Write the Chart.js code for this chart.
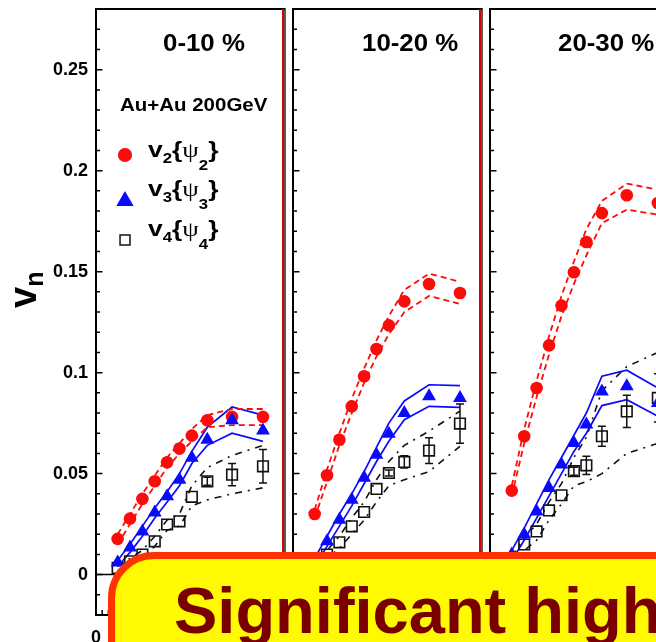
<!DOCTYPE html>
<html>
<head>
<meta charset="utf-8">
<script src="https://cdn.jsdelivr.net/npm/chart.js"></script>
<style>
  html, body { margin: 0; padding: 0; background: #fff; overflow: hidden; }
  body { width: 656px; height: 642px; position: relative; }
  canvas { position: absolute; top: 0; }
  .lbl { position: absolute; font-family: "Liberation Sans", Arial, sans-serif; font-weight: bold; white-space: nowrap; color: #000; transform-origin: 0 0; }
  .cent { top: 32px; font-size: 23.5px; line-height: 23.5px; transform: scaleX(1.1); }
  .sys { left: 120px; top: 97px; font-size: 17.5px; line-height: 17.5px; transform: scaleX(1.17); }
  .leg { left: 148px; font-size: 22px; line-height: 22px; transform: scaleX(1.2); }
  .leg .s1 { font-size: 14px; position: relative; top: 6px; }
  .leg .s2 { font-size: 14px; position: relative; top: 13px; }
  .leg .psi { font-family: "Liberation Serif", serif; font-weight: normal; font-size: 22px; }
  .ytitle { left: 4px; top: 308px; font-size: 38px; line-height: 38px; transform: rotate(-90deg); }
  .ytitle span { font-size: 25px; position: relative; top: 7px; }
  #note { position: absolute; left: 108px; top: 552px; width: 640px; height: 160px; box-sizing: border-box;
          background: #fffa00; border: 7px solid #ff3300; border-radius: 46px; z-index: 5; }
  #note span { position: absolute; left: 59px; top: 19px; font: bold 65px/65px "Liberation Sans", Arial, sans-serif;
               color: #7a0000; white-space: nowrap; }
</style>
</head>
<body>
<canvas id="c1" width="300" height="642" style="left:0px"></canvas>
<canvas id="c2" width="210" height="642" style="left:282px"></canvas>
<canvas id="c3" width="210" height="642" style="left:480px"></canvas>

<div class="lbl cent" style="left:163px">0-10 %</div>
<div class="lbl cent" style="left:362px">10-20 %</div>
<div class="lbl cent" style="left:558px">20-30 %</div>
<div class="lbl sys">Au+Au 200GeV</div>
<div class="lbl leg" style="top:139px">v<span class="s1">2</span>{<span class="psi">ψ</span><span class="s2">2</span>}</div>
<div class="lbl leg" style="top:178px">v<span class="s1">3</span>{<span class="psi">ψ</span><span class="s2">3</span>}</div>
<div class="lbl leg" style="top:218px">v<span class="s1">4</span>{<span class="psi">ψ</span><span class="s2">4</span>}</div>
<div class="lbl ytitle">v<span>n</span></div>
<div id="note"><span>Significant high</span></div>

<script>
const pT = [0.35, 0.55, 0.75, 0.95, 1.15, 1.35, 1.55, 1.8, 2.2, 2.7];
const xTickLabels = ['0', '1', '2', '3'];
const yTickLabels = ['0', '0.05', '0.1', '0.15', '0.2', '0.25'];

// 0-10 %
const v2_0_10 = [0.0177, 0.0277, 0.0375, 0.0462, 0.0556, 0.0624, 0.0688, 0.0764, 0.0781, 0.0781];
const v2Hi_0_10 = [0.020, 0.030, 0.040, 0.049, 0.058, 0.065, 0.072, 0.079, 0.082, 0.082];
const v2Lo_0_10 = [0.015, 0.025, 0.035, 0.044, 0.053, 0.060, 0.066, 0.073, 0.074, 0.074];
const v3_0_10 = [0.006, 0.0134, 0.0214, 0.0307, 0.0388, 0.047, 0.0578, 0.0668, 0.0764, 0.0714];
const v3Hi_0_10 = [0.007, 0.015, 0.024, 0.033, 0.041, 0.050, 0.061, 0.073, 0.083, 0.079];
const v3Lo_0_10 = [0.004, 0.011, 0.019, 0.028, 0.036, 0.044, 0.055, 0.064, 0.070, 0.066];
const v4_0_10 = [0.0033, 0.0066, 0.0099, 0.0165, 0.0248, 0.0264, 0.0385, 0.0462, 0.0495, 0.0536];
const v4Err_0_10 = [0, 0, 0, 0, 0, 0, 0, 0.002, 0.0055, 0.0083];
const v4Hi_0_10 = [0.004, 0.008, 0.012, 0.019, 0.027, 0.030, 0.044, 0.053, 0.059, 0.064];
const v4Lo_0_10 = [0.002, 0.005, 0.008, 0.014, 0.022, 0.024, 0.034, 0.037, 0.040, 0.043];

// 10-20 %
const v2_10_20 = [0.030, 0.0492, 0.0668, 0.0833, 0.0982, 0.1117, 0.1234, 0.1353, 0.1439, 0.1394];
const v2Hi_10_20 = [0.032, 0.052, 0.070, 0.087, 0.102, 0.116, 0.128, 0.141, 0.149, 0.145];
const v2Lo_10_20 = [0.028, 0.046, 0.064, 0.080, 0.095, 0.108, 0.119, 0.130, 0.138, 0.134];
const v3_10_20 = [0.006, 0.0165, 0.0272, 0.0371, 0.0479, 0.0594, 0.0698, 0.080, 0.0883, 0.0875];
const v3Hi_10_20 = [0.008, 0.019, 0.030, 0.040, 0.051, 0.063, 0.075, 0.086, 0.094, 0.0936];
const v3Lo_10_20 = [0.004, 0.014, 0.024, 0.034, 0.045, 0.056, 0.066, 0.0767, 0.0833, 0.0828];
const v4_10_20 = [0.004, 0.0099, 0.016, 0.0239, 0.031, 0.0424, 0.0503, 0.0558, 0.0614, 0.0748];
const v4Err_10_20 = [0, 0, 0, 0, 0, 0, 0.0015, 0.003, 0.0064, 0.0097];
const v4Hi_10_20 = [0.005, 0.012, 0.019, 0.028, 0.036, 0.047, 0.056, 0.064, 0.071, 0.081];
const v4Lo_10_20 = [0.002, 0.008, 0.013, 0.020, 0.027, 0.036, 0.044, 0.047, 0.051, 0.0635];

// 20-30 %
const v2_20_30 = [0.0416, 0.0685, 0.0924, 0.1135, 0.1332, 0.1497, 0.1647, 0.179, 0.1878, 0.184];
const v2Hi_20_30 = [0.044, 0.072, 0.096, 0.118, 0.138, 0.155, 0.171, 0.185, 0.1936, 0.1906];
const v2Lo_20_30 = [0.039, 0.065, 0.088, 0.109, 0.128, 0.144, 0.158, 0.174, 0.1807, 0.1782];
const v3_20_30 = [0.010, 0.0198, 0.0313, 0.0429, 0.0545, 0.0652, 0.0743, 0.0907, 0.0932, 0.085];
const v3Hi_20_30 = [0.012, 0.023, 0.035, 0.047, 0.058, 0.069, 0.080, 0.0982, 0.1012, 0.0924];
const v3Lo_20_30 = [0.007, 0.017, 0.028, 0.039, 0.050, 0.061, 0.070, 0.0837, 0.0866, 0.0784];
const v4_20_30 = [0.008, 0.0149, 0.0214, 0.0318, 0.0393, 0.0512, 0.0541, 0.0685, 0.0808, 0.0875];
const v4Err_20_30 = [0, 0, 0, 0, 0, 0.002, 0.0045, 0.005, 0.008, 0.012];
const v4Hi_20_30 = [0.009, 0.018, 0.025, 0.036, 0.045, 0.058, 0.068, 0.091, 0.103, 0.110];
const v4Lo_20_30 = [0.005, 0.012, 0.017, 0.027, 0.035, 0.044, 0.046, 0.050, 0.060, 0.065];

const RED = '#ff0a0a';
const BLUE = '#0a0aff';
const BLACK = '#111';

Chart.defaults.font.family = '"Liberation Sans", Arial, sans-serif';

// frame, inward ticks, zero line and error bars for each panel
const framePlugin = {
    id: 'frame',
    beforeDatasetsDraw(chart) {
        const { ctx, chartArea: a, scales: { y } } = chart;
        const y0 = y.getPixelForValue(0);
        ctx.save();
        ctx.strokeStyle = '#000';
        ctx.lineWidth = 1.5;
        ctx.beginPath();
        ctx.moveTo(a.left, y0);
        ctx.lineTo(a.right, y0);
        ctx.stroke();
        ctx.restore();
    },
    afterDatasetsDraw(chart) {
        const { ctx, chartArea: a, scales: { x, y } } = chart;
        ctx.save();

        // error bars on the v4 points
        chart.data.datasets.forEach(ds => {
            if (!ds.errors) return;
            ctx.strokeStyle = ds.borderColor;
            ctx.lineWidth = 1.5;
            ctx.beginPath();
            ds.data.forEach((p, i) => {
                const e = ds.errors[i];
                if (!e) return;
                const px = x.getPixelForValue(p.x);
                const top = y.getPixelForValue(p.y + e);
                const bot = y.getPixelForValue(p.y - e);
                ctx.moveTo(px, top); ctx.lineTo(px, bot);
                ctx.moveTo(px - 4, top); ctx.lineTo(px + 4, top);
                ctx.moveTo(px - 4, bot); ctx.lineTo(px + 4, bot);
            });
            ctx.stroke();
        });

        ctx.strokeStyle = '#000';
        ctx.lineWidth = 1.5;
        ctx.beginPath();
        y.ticks.forEach(t => {
            const py = y.getPixelForValue(t.value);
            const q = t.value / 0.05;
            const major = Math.abs(q - Math.round(q)) < 1e-6;
            ctx.moveTo(a.left, py);
            ctx.lineTo(a.left + (major ? 6.5 : 4), py);
        });
        for (let i = 0; i / 10 <= x.max; i++) {
            const px = x.getPixelForValue(i / 10);
            ctx.moveTo(px, a.bottom);
            ctx.lineTo(px, a.bottom - (i % 10 === 0 ? 9 : 5));
        }
        ctx.stroke();

        ctx.lineWidth = 2;
        ctx.beginPath();
        ctx.moveTo(a.right + 1, a.top);
        ctx.lineTo(a.left, a.top);
        ctx.lineTo(a.left, a.bottom);
        ctx.lineTo(a.right + 1, a.bottom);
        ctx.stroke();

        ctx.strokeStyle = '#dd0000';
        ctx.beginPath();
        ctx.moveTo(a.right - 1, a.top);
        ctx.lineTo(a.right - 1, a.bottom);
        ctx.stroke();
        ctx.strokeStyle = '#000';
        ctx.lineWidth = 1.3;
        ctx.beginPath();
        ctx.moveTo(a.right + 1, a.top - 1);
        ctx.lineTo(a.right + 1, a.bottom + 1);
        ctx.stroke();
        ctx.restore();
    }
};

// markers of the legend in the first panel
const legendMarks = {
    id: 'legendMarks',
    afterDraw(chart) {
        const { ctx } = chart;
        const marks = [
            { pointStyle: 'circle', radius: 6.3, fill: RED, stroke: RED, x: 125, y: 155 },
            { pointStyle: 'triangle', radius: 8.5, fill: BLUE, stroke: BLUE, x: 125, y: 201 },
            { pointStyle: 'rect', radius: 7, fill: 'rgba(0,0,0,0)', stroke: BLACK, x: 125, y: 240 }
        ];
        ctx.save();
        marks.forEach(m => {
            ctx.fillStyle = m.fill;
            ctx.strokeStyle = m.stroke;
            ctx.lineWidth = 1.5;
            Chart.helpers.drawPoint(ctx, { pointStyle: m.pointStyle, radius: m.radius, rotation: 0, borderWidth: 1.5 }, m.x, m.y);
        });
        ctx.restore();
    }
};

function points(values) {
    return values.map((v, i) => ({ x: pT[i], y: v }));
}

function band(values, color, dash, width) {
    return {
        data: points(values),
        showLine: true,
        pointRadius: 0,
        borderColor: color,
        borderWidth: width,
        borderDash: dash,
        fill: false,
        order: 10
    };
}

function buildPanel(id, s, showY, padding) {
    const plugins = [framePlugin];
    if (showY) plugins.push(legendMarks);

    new Chart(document.getElementById(id), {
        type: 'scatter',
        data: {
            datasets: [
                { data: points(s.v3), pointStyle: 'triangle', pointRadius: 8, backgroundColor: BLUE, borderColor: BLUE, borderWidth: 0, order: 1 },
                { data: points(s.v4), errors: s.v4Err, pointStyle: 'rect', pointRadius: 7.5, backgroundColor: 'rgba(0,0,0,0)', borderColor: BLACK, borderWidth: 1.6, order: 2 },
                { data: points(s.v2), pointStyle: 'circle', pointRadius: 6.3, backgroundColor: RED, borderColor: RED, borderWidth: 0, order: 3 },
                band(s.v2Hi, RED, [6, 4], 1.8),
                band(s.v2Lo, RED, [6, 4], 1.8),
                band(s.v3Hi, BLUE, [], 1.7),
                band(s.v3Lo, BLUE, [], 1.7),
                band(s.v4Hi, BLACK, [7, 6, 2, 6], 1.6),
                band(s.v4Lo, BLACK, [7, 6, 2, 6], 1.6)
            ]
        },
        options: {
            responsive: false,
            animation: false,
            events: [],
            layout: { padding },
            plugins: { legend: { display: false }, tooltip: { enabled: false } },
            scales: {
                x: {
                    type: 'linear',
                    min: 0,
                    max: 3.04,
                    afterFit: sc => { sc.height = 27; sc.paddingLeft = 0; sc.paddingRight = 0; },
                    grid: { display: false, drawTicks: false },
                    border: { display: false },
                    ticks: {
                        stepSize: 1, autoSkip: false, maxRotation: 0, padding: 12, color: '#000',
                        font: { size: 18, weight: 'bold' },
                        callback: v => xTickLabels.includes(String(v)) ? String(v) : ''
                    }
                },
                y: {
                    display: showY,
                    min: -0.02,
                    max: 0.28,
                    afterFit: sc => { sc.width = showY ? 96 : 0; sc.paddingTop = 0; sc.paddingBottom = 0; },
                    grid: { display: false, drawTicks: false },
                    border: { display: false },
                    ticks: {
                        stepSize: 0.01, autoSkip: false, padding: 8, color: '#000',
                        font: { size: 18, weight: 'bold' },
                        callback: v => {
                            const s = String(Math.round(v * 100) / 100);
                            return yTickLabels.includes(s) ? s : '';
                        }
                    }
                }
            }
        },
        plugins
    });
}

buildPanel('c1', {
    v2: v2_0_10, v2Hi: v2Hi_0_10, v2Lo: v2Lo_0_10,
    v3: v3_0_10, v3Hi: v3Hi_0_10, v3Lo: v3Lo_0_10,
    v4: v4_0_10, v4Err: v4Err_0_10, v4Hi: v4Hi_0_10, v4Lo: v4Lo_0_10
}, true, { top: 9, right: 16, bottom: 0, left: 0 });

buildPanel('c2', {
    v2: v2_10_20, v2Hi: v2Hi_10_20, v2Lo: v2Lo_10_20,
    v3: v3_10_20, v3Hi: v3Hi_10_20, v3Lo: v3Lo_10_20,
    v4: v4_10_20, v4Err: v4Err_10_20, v4Hi: v4Hi_10_20, v4Lo: v4Lo_10_20
}, false, { top: 9, right: 11, bottom: 0, left: 11 });

buildPanel('c3', {
    v2: v2_20_30, v2Hi: v2Hi_20_30, v2Lo: v2Lo_20_30,
    v3: v3_20_30, v3Hi: v3Hi_20_30, v3Lo: v3Lo_20_30,
    v4: v4_20_30, v4Err: v4Err_20_30, v4Hi: v4Hi_20_30, v4Lo: v4Lo_20_30
}, false, { top: 9, right: 11, bottom: 0, left: 10 });
</script>
</body>
</html>
